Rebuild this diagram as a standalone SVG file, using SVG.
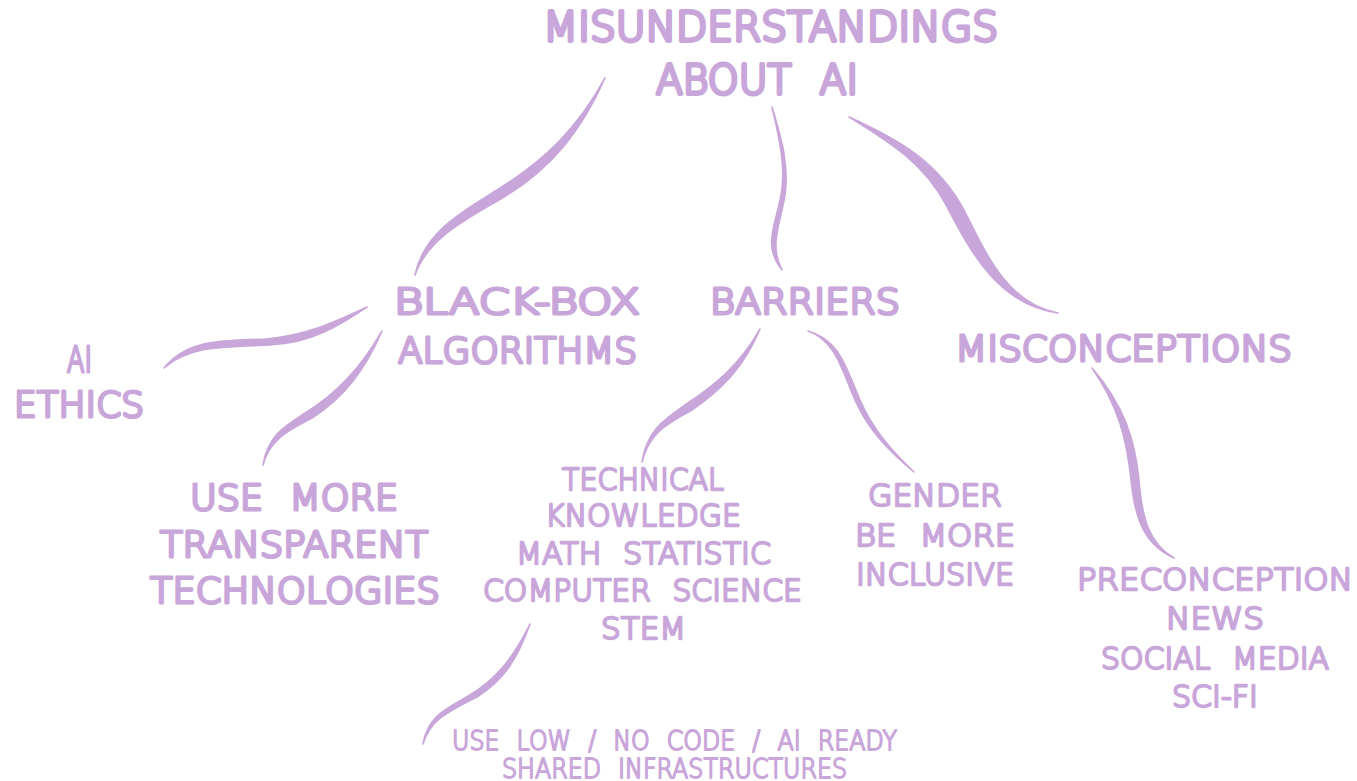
<svg xmlns="http://www.w3.org/2000/svg" width="1357" height="781" viewBox="0 0 1357 781">
<style>
text{font-family:"DejaVu Sans","Liberation Sans",sans-serif;font-weight:200;fill:#c9a6da;stroke:#c9a6da;stroke-linejoin:round;stroke-linecap:round}
.a{font-size:40px;stroke-width:3.8px}
.b{font-size:36px;stroke-width:3.2px}
.c{font-size:31px;stroke-width:2.4px}
.d{font-size:26px;stroke-width:1.8px}
.w{word-spacing:.4em}
#connectors path{fill:#c9a6da;stroke:#c9a6da;stroke-width:1.6px;stroke-linejoin:round}
</style>
<rect width="1357" height="781" fill="#ffffff"/>
<g id="connectors">
<path d="M605 78C578 128 545 160 497 190C462 212 424 232 415 275C428 238 465 220 504 197C552 168 582 130 605 78Z"/>
<path d="M772 107C780 140 786 170 781 195C776 225 762 245 782 270C769 245 780 225 785 195C789 165 782 140 772 107Z"/>
<path d="M849 117C892 143 925 165 946 205C972 255 1000 305 1058 313C1008 303 988 258 964 210C938 162 900 140 849 117Z"/>
<path d="M367 307C335 322 305 336 265 339C225 341 188 338 164 368C190 345 225 347 270 345C312 343 340 325 367 307Z"/>
<path d="M382 331C360 370 335 395 305 413C285 426 268 435 263 465C270 438 290 430 312 418C344 398 365 370 382 331Z"/>
<path d="M760 329C740 365 715 385 685 405C665 419 647 430 642 462C649 433 668 423 692 410C724 388 745 365 760 329Z"/>
<path d="M808 331C835 340 842 370 855 400C868 430 890 452 914 472C892 451 873 430 860 400C846 368 840 340 808 331Z"/>
<path d="M1092 368C1118 405 1127 440 1131 480C1135 520 1145 545 1174 558C1150 544 1142 520 1139 480C1135 440 1124 405 1092 368Z"/>
<path d="M530 624C512 660 495 680 470 695C448 708 428 715 423 744C431 718 450 711 477 697C504 680 517 660 530 624Z"/>
</g>
<g id="node-title">
<text class="a" x="543" y="41" textLength="455" lengthAdjust="spacingAndGlyphs">MISUNDERSTANDINGS</text>
<text class="a w" x="656" y="94" textLength="202" lengthAdjust="spacingAndGlyphs">ABOUT AI</text>
</g>
<g id="node-blackbox">
<text class="b" x="394" y="314" textLength="246" lengthAdjust="spacingAndGlyphs">BLACK-BOX</text>
<text class="b" x="398" y="363" textLength="239" lengthAdjust="spacingAndGlyphs">ALGORITHMS</text>
</g>
<g id="node-barriers">
<text class="b" x="710" y="314" textLength="190" lengthAdjust="spacingAndGlyphs">BARRIERS</text>
</g>
<g id="node-misconceptions">
<text class="b" x="955" y="361" textLength="337" lengthAdjust="spacingAndGlyphs">MISCONCEPTIONS</text>
</g>
<g id="node-ethics">
<text class="b" x="67" y="372" textLength="25" lengthAdjust="spacingAndGlyphs">AI</text>
<text class="b" x="14" y="417" textLength="130" lengthAdjust="spacingAndGlyphs">ETHICS</text>
</g>
<g id="node-transparent">
<text class="b w" x="190" y="510" textLength="208" lengthAdjust="spacingAndGlyphs">USE MORE</text>
<text class="b" x="160" y="557" textLength="268" lengthAdjust="spacingAndGlyphs">TRANSPARENT</text>
<text class="b" x="150" y="603" textLength="290" lengthAdjust="spacingAndGlyphs">TECHNOLOGIES</text>
</g>
<g id="node-technical">
<text class="c" x="562" y="490" textLength="162" lengthAdjust="spacingAndGlyphs">TECHNICAL</text>
<text class="c" x="545" y="526" textLength="196" lengthAdjust="spacingAndGlyphs">KNOWLEDGE</text>
<text class="c w" x="516" y="564" textLength="255" lengthAdjust="spacingAndGlyphs">MATH STATISTIC</text>
<text class="c w" x="483" y="601" textLength="319" lengthAdjust="spacingAndGlyphs">COMPUTER SCIENCE</text>
<text class="c" x="601" y="639" textLength="85" lengthAdjust="spacingAndGlyphs">STEM</text>
</g>
<g id="node-gender">
<text class="c" x="868" y="506" textLength="134" lengthAdjust="spacingAndGlyphs">GENDER</text>
<text class="c w" x="855" y="546" textLength="160" lengthAdjust="spacingAndGlyphs">BE MORE</text>
<text class="c" x="856" y="585" textLength="158" lengthAdjust="spacingAndGlyphs">INCLUSIVE</text>
</g>
<g id="node-preconception">
<text class="c" x="1077" y="590" textLength="276" lengthAdjust="spacingAndGlyphs">PRECONCEPTION</text>
<text class="c" x="1166" y="629" textLength="98" lengthAdjust="spacingAndGlyphs">NEWS</text>
<text class="c w" x="1101" y="669" textLength="228" lengthAdjust="spacingAndGlyphs">SOCIAL MEDIA</text>
<text class="c" x="1172" y="707" textLength="86" lengthAdjust="spacingAndGlyphs">SCI-FI</text>
</g>
<g id="node-lowcode">
<text class="d w" x="452" y="750" textLength="445" lengthAdjust="spacingAndGlyphs">USE LOW / NO CODE / AI READY</text>
<text class="d w" x="502" y="778" textLength="345" lengthAdjust="spacingAndGlyphs">SHARED INFRASTRUCTURES</text>
</g>
</svg>
